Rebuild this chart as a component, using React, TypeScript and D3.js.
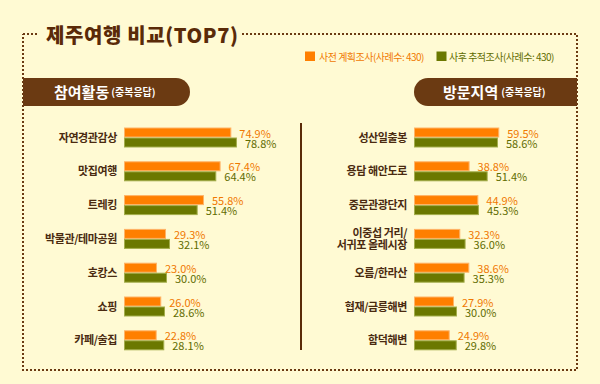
import * as d3 from "d3"

const categoriesLeft = ["자연경관감상", "맛집여행", "트레킹", "박물관/테마공원", "호캉스", "쇼핑", "카페/술집"]
const preLeft = [74.9, 67.4, 55.8, 29.3, 23.0, 26.0, 22.8]
const postLeft = [78.8, 64.4, 51.4, 32.1, 30.0, 28.6, 28.1]

const categoriesRight = ["성산일출봉", "용담 해안도로", "중문관광단지", "이중섭 거리/\n서귀포 올레시장", "오름/한라산", "협재/금릉해변", "함덕해변"]
const preRight = [59.5, 38.8, 44.9, 32.3, 38.6, 27.9, 24.9]
const postRight = [58.6, 51.4, 45.3, 36.0, 35.3, 30.0, 29.8]

const seriesNames = ["사전 계획조사(사례수: 430)", "사후 추적조사(사례수: 430)"]

const W = 600
const H = 384
const BG = "#fffad3"
const BROWN = "#6b3a12"
const TEXT = "#4a2a10"
const ORANGE = "#ff7f00"
const GREEN = "#6b7800"
const ORANGE_TXT = "#f07800"
const GREEN_TXT = "#5f6c00"
const FONT = "'Noto Sans CJK KR', 'Noto Sans', sans-serif"

function Panel({ x0, categories, pre, post }: { x0: number; categories: string[]; pre: number[]; post: number[] }) {
  const xScale = d3.scaleLinear().domain([0, 100]).range([0, 143.3])
  const yScale = d3.scalePoint<string>().domain(categories).range([137.5, 340.3])
  const sub = d3.scaleBand().domain(["pre", "post"]).range([-10, 10])
  const fmt = (v: number) => `${v.toFixed(1)}%`

  return (
    <g>
      {categories.map((c, i) => {
        const cy = yScale(c)!
        const lines = c.split("\n")
        const rows = [
          { key: "pre", v: pre[i], fill: ORANGE, stroke: "#ffb366", txt: ORANGE_TXT },
          { key: "post", v: post[i], fill: GREEN, stroke: "#a3ad4a", txt: GREEN_TXT },
        ]
        return (
          <g key={c}>
            {lines.map((l, j) => (
              <text
                key={j}
                x={x0 - 7}
                y={cy + (j - (lines.length - 1) / 2) * 12 - 1}
                textAnchor="end"
                dominantBaseline="central"
                fontSize={11}
                fontWeight={700}
                fill={TEXT}
                fontFamily={FONT}
                letterSpacing={-0.4}
              >
                {l}
              </text>
            ))}
            {rows.map((r) => (
              <g key={r.key}>
                <rect
                  x={x0 + 0.5}
                  y={cy + sub(r.key)! + 0.5}
                  width={xScale(r.v) - 1}
                  height={sub.bandwidth() - 1}
                  fill={r.fill}
                  stroke={r.stroke}
                  strokeWidth={1}
                />
                <text
                  x={x0 + xScale(r.v) + 8}
                  y={cy + sub(r.key)! + sub.bandwidth() / 2}
                  dominantBaseline="central"
                  fontSize={11}
                  fill={r.txt}
                  fontFamily={FONT}
                >
                  {fmt(r.v)}
                </text>
              </g>
            ))}
          </g>
        )
      })}
    </g>
  )
}

export default function App() {
  const left = 23
  const right = 577
  const top = 34
  const bottom = 370
  const pillTop = 78
  const pillH = 28
  const r = pillH / 2
  const dot = { stroke: BROWN, strokeWidth: 2, strokeDasharray: "2 2", fill: "none" }

  const leftPill = `M${left},${pillTop}H${190 - r}A${r},${r} 0 0 1 ${190 - r},${pillTop + pillH}H${left}Z`
  const rightPill = `M${right},${pillTop}H${414 + r}A${r},${r} 0 0 0 ${414 + r},${pillTop + pillH}H${right}Z`

  return (
    <svg width={W} height={H} style={{ position: "absolute", left: 0, top: 0, background: BG }}>
      <rect width={W} height={H} fill={BG} />
      {/* dotted frame */}
      <path d={`M${left},${top}H38`} {...dot} />
      <path d={`M242,${top}H${right}V${bottom}H${left}V${top}`} {...dot} />
      <text x={46} y={top} dominantBaseline="central" fontSize={20} fontWeight={900} fill="#5a2a08" fontFamily={FONT} letterSpacing={0.6}>
        제주여행 비교(TOP7)
      </text>

      {/* legend */}
      <rect x={305} y={51.5} width={10} height={9.5} fill={ORANGE} />
      <text x={319} y={56.5} dominantBaseline="central" fontSize={10} fill={ORANGE_TXT} fontFamily={FONT} letterSpacing={-0.5}>
        {seriesNames[0]}
      </text>
      <rect x={436.5} y={51.5} width={10} height={9.5} fill={GREEN} />
      <text x={449} y={56.5} dominantBaseline="central" fontSize={10} fill={GREEN_TXT} fontFamily={FONT} letterSpacing={-0.5}>
        {seriesNames[1]}
      </text>

      {/* section headers */}
      <path d={leftPill} fill={BROWN} />
      <text x={54} y={91} dominantBaseline="central" fill="#fff" fontFamily={FONT} fontWeight={700}>
        <tspan fontSize={15}>참여활동</tspan>
        <tspan fontSize={10} dx={2}>(중복응답)</tspan>
      </text>
      <path d={rightPill} fill={BROWN} />
      <text x={443} y={91} dominantBaseline="central" fill="#fff" fontFamily={FONT} fontWeight={700}>
        <tspan fontSize={15}>방문지역</tspan>
        <tspan fontSize={10} dx={3}>(중복응답)</tspan>
      </text>

      <line x1={301} x2={301} y1={123} y2={350} stroke="#5a2a08" strokeWidth={2} />

      <Panel x0={124} categories={categoriesLeft} pre={preLeft} post={postLeft} />
      <Panel x0={414} categories={categoriesRight} pre={preRight} post={postRight} />
    </svg>
  )
}
